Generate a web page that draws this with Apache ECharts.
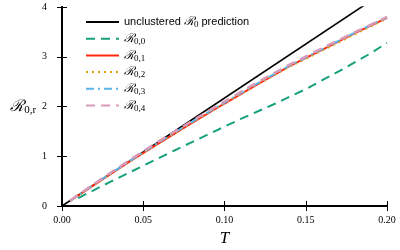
<!DOCTYPE html>
<html><head><meta charset="utf-8">
<script src="https://cdn.jsdelivr.net/npm/echarts@6/dist/echarts.min.js"></script>
<style>html,body{margin:0;padding:0;background:#fff}#c{width:400px;height:250px}</style>
</head><body><div id="c"></div>
<script>
const xTicks = [0.00, 0.05, 0.10, 0.15, 0.20];
const yTicks = [0, 1, 2, 3, 4];
const unclusteredT = [0, 0.2];
const unclusteredR = [0, 4.34];
const greenT = [0.01, 0.03, 0.05, 0.07, 0.09, 0.11, 0.13, 0.15, 0.17, 0.19, 0.20];
const r00 = [0.16, 0.49, 0.81, 1.13, 1.44, 1.75, 2.04, 2.35, 2.70, 3.07, 3.28];
const T = [0.005, 0.02, 0.04, 0.06, 0.08, 0.10, 0.12, 0.14, 0.16, 0.18, 0.20];
const r01 = [0.10, 0.43, 0.86, 1.27, 1.67, 2.06, 2.44, 2.81, 3.14, 3.47, 3.78];
const r02 = [0.10, 0.43, 0.86, 1.28, 1.68, 2.07, 2.44, 2.80, 3.12, 3.45, 3.77];
const r03 = [0.10, 0.44, 0.87, 1.29, 1.69, 2.08, 2.46, 2.82, 3.15, 3.48, 3.79];
const r04 = [0.11, 0.45, 0.89, 1.31, 1.71, 2.10, 2.48, 2.84, 3.17, 3.49, 3.80];
const names = ['unclustered', 'r00', 'r01', 'r02', 'r03', 'r04'];
const labels = {
  unclustered: 'unclustered {r|ℛ}{s|0} prediction',
  r00: '{r|ℛ}{s|0,0}', r01: '{r|ℛ}{s|0,1}', r02: '{r|ℛ}{s|0,2}', r03: '{r|ℛ}{s|0,3}', r04: '{r|ℛ}{s|0,4}'
};
const zip = (a, b) => a.map((v, i) => [v, b[i]]);
const chart = echarts.init(document.getElementById('c'), null, {renderer: 'canvas'});
const axisCommon = {
  axisLine: {show: true, lineStyle: {color: '#000', width: 2}},
  axisTick: {show: true, inside: true, length: 5, lineStyle: {color: '#000', width: 1}},
  splitLine: {show: false}
};
const serif = 'Liberation Serif';
chart.setOption({
  animation: false,
  grid: {left: 62, right: 13, top: 7, bottom: 44, show: false, containLabel: false, outerBoundsMode: 'none'},
  legend: {
    orient: 'vertical', left: 80, top: 11, itemWidth: 33, itemHeight: 12, itemGap: 3.2,
    data: names,
    itemStyle: {opacity: 0},
    formatter: n => labels[n],
    textStyle: {
      fontFamily: 'Liberation Sans', fontSize: 11, color: '#000',
      rich: {
        r: {fontFamily: 'DejaVu Serif', fontSize: 12, fontStyle: 'italic', color: '#000'},
        s: {fontFamily: serif, fontSize: 9, color: '#000', padding: [6, 0, 0, 0]}
      }
    }
  },
  xAxis: [
    Object.assign({type: 'value', min: 0, max: 0.2, interval: 0.05, position: 'bottom',
      name: 'T', nameLocation: 'middle', nameGap: 24,
      nameTextStyle: {fontFamily: serif, fontStyle: 'italic', fontSize: 17, color: '#000'},
      axisLabel: {fontFamily: serif, fontSize: 10, color: '#000', margin: 9, formatter: v => v.toFixed(2)}}, axisCommon),
    Object.assign({type: 'value', min: 0, max: 0.2, interval: 0.05, position: 'top', axisLabel: {show: false}}, axisCommon)
  ],
  yAxis: [
    Object.assign({type: 'value', min: 0, max: 4, interval: 1, position: 'left',
      name: '{r|ℛ}{s|0,r}', nameLocation: 'middle', nameRotate: 0, nameGap: 24,
      nameTextStyle: {align: 'right', rich: {
        r: {fontFamily: 'DejaVu Serif', fontStyle: 'italic', fontSize: 16, color: '#000'},
        s: {fontFamily: serif, fontSize: 11, color: '#000', padding: [7, 0, 0, 0]}
      }},
      axisLabel: {fontFamily: serif, fontSize: 10, color: '#000', margin: 15}}, axisCommon),
    Object.assign({type: 'value', min: 0, max: 4, interval: 1, position: 'right', axisLabel: {show: false}}, axisCommon)
  ],
  series: [
    {name: 'unclustered', type: 'line', data: zip(unclusteredT, unclusteredR), symbol: 'none', clip: true,
      lineStyle: {color: '#000', width: 1.6}, itemStyle: {color: '#000'}, z: 2},
    {name: 'r00', type: 'line', data: zip(greenT, r00), symbol: 'none',
      lineStyle: {color: '#17a07c', width: 2, type: [9, 6]}, itemStyle: {color: '#17a07c'}, z: 3},
    {name: 'r01', type: 'line', data: zip(T, r01), symbol: 'none',
      lineStyle: {color: '#ff2a10', width: 2}, itemStyle: {color: '#ff2a10'}, z: 3},
    {name: 'r02', type: 'line', data: zip(T, r02), symbol: 'none',
      lineStyle: {color: '#e8a000', width: 2, type: [2, 4]}, itemStyle: {color: '#e8a000'}, z: 4},
    {name: 'r03', type: 'line', data: zip(T, r03), symbol: 'none',
      lineStyle: {color: '#5ab4ec', width: 2, type: [8, 4, 2, 4]}, itemStyle: {color: '#5ab4ec'}, z: 5},
    {name: 'r04', type: 'line', data: zip(T, r04), symbol: 'none',
      lineStyle: {color: '#d89ab8', width: 2.5, type: [9, 6]}, itemStyle: {color: '#d89ab8'}, z: 6}
  ]
});
</script></body></html>
